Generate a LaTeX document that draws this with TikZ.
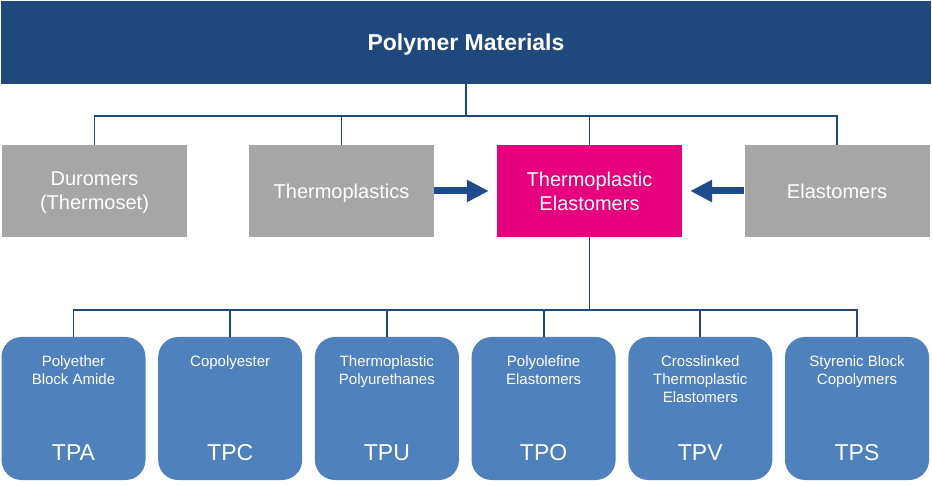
\documentclass[tikz,border=0pt]{standalone}
\usepackage{fontspec}
\setmainfont{Liberation Sans}
\usetikzlibrary{arrows.meta}
\begin{document}
\begin{tikzpicture}[x=1pt,y=1pt,
  topbox/.style={fill=barColor,text=white,minimum width=930pt,minimum height=83pt,inner sep=0pt,text depth=0pt,font=\fontsize{23}{27}\selectfont\bfseries},
  classbox/.style={fill=classColor,text=white,minimum width=185pt,minimum height=92pt,inner sep=0pt,text depth=0pt,align=center,font=\fontsize{20}{24}\selectfont},
  tpebox/.style={classbox,fill=tpeColor},
  fambox/.style={fill=famColor,rounded corners=20pt,minimum width=144pt,minimum height=143pt,inner sep=0pt},
  famname/.style={text=white,anchor=north,inner sep=0pt,align=center,font=\fontsize{15}{18}\selectfont},
  famcode/.style={text=white,inner sep=0pt,font=\fontsize{23}{26}\selectfont},
  conn/.style={draw=lineColor,line width=1.8pt},
  feed/.style={draw=arrowColor,line width=7pt,-{Triangle[length=22pt,width=21pt]},shorten >=8pt}
]
\definecolor{fillColor}{RGB}{255,255,255}
\definecolor{barColor}{RGB}{31,73,125}
\definecolor{classColor}{RGB}{166,166,166}
\definecolor{tpeColor}{RGB}{230,0,126}
\definecolor{famColor}{RGB}{79,129,189}
\definecolor{lineColor}{RGB}{31,73,125}
\definecolor{arrowColor}{RGB}{30,75,140}
\path[use as bounding box,fill=fillColor] (0,0) rectangle (932,485);

\node[topbox] (top) at (466,442.5) {Polymer Materials};

\node[classbox] (dur) at (94.5,294) {Duromers\\(Thermoset)};
\node[classbox] (thermo) at (341.5,294) {Thermoplastics};
\node[tpebox] (tpe) at (589.5,294) {Thermoplastic\\Elastomers};
\node[classbox] (elast) at (837,294) {Elastomers};

\coordinate (bus1) at (466,369);
\draw[conn] (top.south) -- (bus1);
\draw[conn] (dur.north) |- (bus1) -| (elast.north);
\draw[conn] (thermo.north) -- (thermo.north |- bus1);
\draw[conn] (tpe.north) -- (tpe.north |- bus1);

\draw[feed] (thermo.east) -- (tpe.west);
\draw[feed] (elast.west) -- (tpe.east);

\node[fambox] (tpa) at (73.5,76.5) {};
\node[fambox] (tpc) at (230.2,76.5) {};
\node[fambox] (tpu) at (386.9,76.5) {};
\node[fambox] (tpo) at (543.6,76.5) {};
\node[fambox] (tpv) at (700.3,76.5) {};
\node[fambox] (tps) at (857,76.5) {};

\node[famname] (tpaname) at ([yshift=-19pt]tpa.north) {Polyether\\Block Amide};
\node[famname] (tpcname) at ([yshift=-19pt]tpc.north) {Copolyester};
\node[famname] (tpuname) at ([yshift=-19pt]tpu.north) {Thermoplastic\\Polyurethanes};
\node[famname] (tponame) at ([yshift=-19pt]tpo.north) {Polyolefine\\Elastomers};
\node[famname] (tpvname) at ([yshift=-19pt]tpv.north) {Crosslinked\\Thermoplastic\\Elastomers};
\node[famname] (tpsname) at ([yshift=-19pt]tps.north) {Styrenic Block\\Copolymers};

\node[famcode] (tpacode) at ([yshift=27.5pt]tpa.south) {TPA};
\node[famcode] (tpccode) at ([yshift=27.5pt]tpc.south) {TPC};
\node[famcode] (tpucode) at ([yshift=27.5pt]tpu.south) {TPU};
\node[famcode] (tpocode) at ([yshift=27.5pt]tpo.south) {TPO};
\node[famcode] (tpvcode) at ([yshift=27.5pt]tpv.south) {TPV};
\node[famcode] (tpscode) at ([yshift=27.5pt]tps.south) {TPS};

\draw[conn] (tpe.south) -- ++(0,-73) coordinate (bus2);
\draw[conn] (tpa.north) |- (bus2) -| (tps.north);
\foreach \f in {tpc,tpu,tpo,tpv}
  \draw[conn] (\f.north) -- (\f.north |- bus2);
\end{tikzpicture}
\end{document}
